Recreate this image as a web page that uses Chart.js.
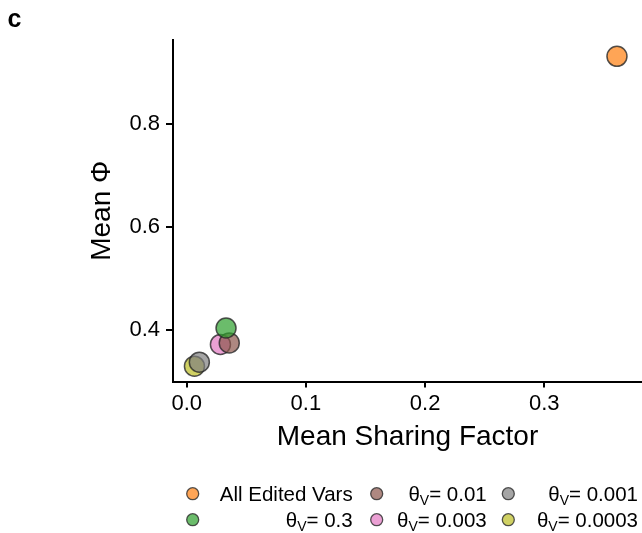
<!DOCTYPE html>
<html>
<head>
<meta charset="utf-8">
<script src="https://cdn.jsdelivr.net/npm/chart.js@4.4.1/dist/chart.umd.min.js"></script>
<style>
  html, body { margin: 0; padding: 0; background: #fff; }
  #wrap { position: relative; width: 642px; height: 533px; }
</style>
</head>
<body>
<div id="wrap"><canvas id="chart" width="642" height="533"></canvas></div>
<script>
// one point per threshold setting
const seriesNames = ["All Edited Vars", "0.3", "0.01", "0.003", "0.001", "0.0003"]
const sharingFactor = [0.361, 0.033, 0.0357, 0.0283, 0.0106, 0.0065]
const meanPhi = [0.932, 0.404, 0.375, 0.372, 0.3375, 0.3297]
const seriesColors = ["#ff7f0e", "#2ca02c", "#8c564b", "#e377c2", "#7f7f7f", "#bcbd22"]
const xTicks = [0.0, 0.1, 0.2, 0.3]
const yTicks = [0.4, 0.6, 0.8]

const FONT = "'Liberation Sans', Arial, sans-serif"
const EDGE = "rgba(40,40,40,0.8)"

function withAlpha(hex, a) {
  const n = parseInt(hex.slice(1), 16)
  return `rgba(${(n >> 16) & 255},${(n >> 8) & 255},${n & 255},${a})`
}

// legend laid out column by column, text right-aligned in each column
const legendCols = [
  { marker: 192.7, right: 352.7, items: [0, 1] },
  { marker: 376.7, right: 486.7, items: [2, 3] },
  { marker: 508.3, right: 638, items: [4, 5] }
]
const legendRows = [493.7, 519.7]

const extras = {
  id: "extras",
  beforeDraw(chart) {
    const ctx = chart.ctx
    ctx.save()
    ctx.fillStyle = "#fff"
    ctx.fillRect(0, 0, chart.width, chart.height)
    ctx.restore()
  },
  afterDraw(chart) {
    const ctx = chart.ctx
    ctx.save()
    ctx.fillStyle = "#000"
    ctx.font = `bold 25px ${FONT}`
    ctx.textBaseline = "alphabetic"
    ctx.fillText("c", 7.5, 26.7)

    const big = `20.5px ${FONT}`
    const small = `14px ${FONT}`
    legendCols.forEach(col => {
      col.items.forEach((idx, r) => {
        const cy = legendRows[r]
        ctx.beginPath()
        ctx.arc(col.marker, cy, 6, 0, Math.PI * 2)
        ctx.fillStyle = withAlpha(seriesColors[idx], 0.7)
        ctx.fill()
        ctx.lineWidth = 1.3
        ctx.strokeStyle = EDGE
        ctx.stroke()

        const base = cy + 7
        ctx.fillStyle = "#000"
        if (idx === 0) {
          ctx.font = big
          ctx.textAlign = "right"
          ctx.fillText(seriesNames[idx], col.right, base)
          return
        }
        // θ with subscript V, then the value
        ctx.textAlign = "left"
        ctx.font = big
        const wTheta = ctx.measureText("θ").width
        const rest = "= " + seriesNames[idx]
        const wRest = ctx.measureText(rest).width
        ctx.font = small
        const wSub = ctx.measureText("V").width
        let x = col.right - (wTheta + wSub + wRest)
        ctx.font = big
        ctx.fillText("θ", x, base)
        x += wTheta
        ctx.font = small
        ctx.fillText("V", x, base + 4)
        x += wSub
        ctx.font = big
        ctx.fillText(rest, x, base)
      })
    })
    ctx.restore()
  }
}

Chart.defaults.font.family = FONT
Chart.defaults.color = "#000"

new Chart(document.getElementById("chart"), {
  type: "scatter",
  data: {
    datasets: seriesNames.map((name, i) => ({
      label: name,
      data: [{ x: sharingFactor[i], y: meanPhi[i] }],
      backgroundColor: withAlpha(seriesColors[i], 0.7),
      borderColor: EDGE,
      borderWidth: 1.5,
      pointRadius: 10,
      pointHoverRadius: 10
    }))
  },
  options: {
    responsive: false,
    animation: false,
    events: [],
    layout: { autoPadding: false, padding: { left: 85, top: 40, right: 0, bottom: 79 } },
    plugins: { legend: { display: false }, tooltip: { enabled: false } },
    scales: {
      x: {
        type: "linear",
        min: -0.0115,
        max: 0.382,
        afterFit(scale) {
          scale.height = 72.5
          scale.paddingLeft = 0
          scale.paddingRight = 0
        },
        afterBuildTicks(scale) { scale.ticks = xTicks.map(v => ({ value: v })) },
        border: { display: true, color: "#000", width: 2 },
        grid: { drawOnChartArea: false, drawTicks: true, tickLength: 6, lineWidth: 2, color: "#000" },
        ticks: {
          padding: 3,
          font: { size: 22 },
          color: "#000",
          maxRotation: 0,
          autoSkip: false,
          callback: v => v.toFixed(1)
        },
        title: { display: true, text: "Mean Sharing Factor", font: { size: 28 }, color: "#000", padding: 0 }
      },
      y: {
        type: "linear",
        min: 0.3,
        max: 0.9637,
        afterFit(scale) {
          scale.width = 88
          scale.paddingTop = 0
          scale.paddingBottom = 0
        },
        afterBuildTicks(scale) { scale.ticks = yTicks.map(v => ({ value: v })) },
        border: { display: true, color: "#000", width: 2 },
        grid: { drawOnChartArea: false, drawTicks: true, tickLength: 7, lineWidth: 2, color: "#000" },
        ticks: {
          padding: 6,
          font: { size: 22 },
          color: "#000",
          autoSkip: false,
          callback: v => v.toFixed(1)
        },
        title: { display: true, text: "Mean Φ", font: { size: 28 }, color: "#000", padding: 0 }
      }
    }
  },
  plugins: [extras]
})
</script>
</body>
</html>
